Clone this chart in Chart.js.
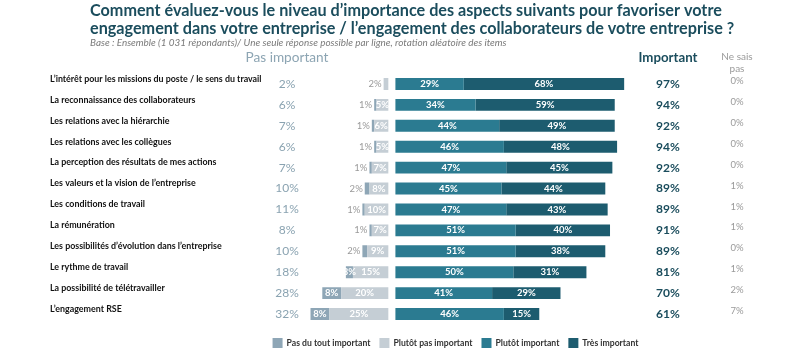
<!DOCTYPE html>
<html><head><meta charset="utf-8">
<script src="https://cdn.jsdelivr.net/npm/chart.js@4.4.1/dist/chart.umd.min.js"></script>
<style>html,body{margin:0;padding:0;background:#fff;overflow:hidden;}</style>
</head><body>
<canvas id="c" width="800" height="352"></canvas>
<script>
// ---------- DATA ----------
const titleLines = [
  "Comment évaluez-vous le niveau d’importance des aspects suivants pour favoriser votre",
  "engagement dans votre entreprise / l’engagement des collaborateurs de votre entreprise ?"
];
const subtitle = "Base : Ensemble (1 031 répondants)/ Une seule réponse possible par ligne, rotation aléatoire des items";
const categories = [
  "L’intérêt pour les missions du poste / le sens du travail",
  "La reconnaissance des collaborateurs",
  "Les relations avec la hiérarchie",
  "Les relations avec les collègues",
  "La perception des résultats de mes actions",
  "Les valeurs et la vision de l’entreprise",
  "Les conditions de travail",
  "La rémunération",
  "Les possibilités d’évolution dans l’entreprise",
  "Le rythme de travail",
  "La possibilité de télétravailler",
  "L’engagement RSE"
];
const seriesNames = ["Pas du tout important", "Plutôt pas important", "Plutôt important", "Très important"];
const pasDuTout   = [0, 1, 1, 1, 1, 2, 1, 1, 2, 3, 8, 8];
const plutotPas   = [2, 5, 6, 5, 7, 8, 10, 7, 9, 15, 20, 25];
const plutotImp   = [29, 34, 44, 46, 47, 45, 47, 51, 51, 50, 41, 46];
const tresImp     = [68, 59, 49, 48, 45, 44, 43, 40, 38, 31, 29, 15];
const pasImportant = [2, 6, 7, 6, 7, 10, 11, 8, 10, 18, 28, 32];
const important    = [97, 94, 92, 94, 92, 89, 89, 91, 89, 81, 70, 61];
const neSaisPas    = [0, 0, 0, 0, 0, 1, 1, 1, 0, 1, 2, 7];
const headers = { pas: "Pas important", imp: "Important", nsp: ["Ne sais", "pas"] };

// ---------- STYLE ----------
const C_PDT = "#8ea6b6", C_PP = "#c5ced5", C_PI = "#2b7b91", C_TI = "#1d5c6f";
const C_TITLE = "#1b4d5d";
const FAM = "Lato, 'Open Sans', sans-serif";
const GAP = 3; // visual gap (axis units) between the negative and positive stacks

function fitSize(text, weight, style, family, targetW) {
  const cv = document.createElement('canvas').getContext('2d');
  cv.font = `${style} ${weight} 20px ${family}`;
  return 20 * targetW / cv.measureText(text).width;
}
const catSize = fitSize(categories[0], 'bold', 'normal', FAM, 212);

const pctTxt = v => v + "%";

const overlay = {
  id: 'overlay',
  afterDatasetsDraw(chart) {
    const ctx = chart.ctx;
    ctx.save();
    const srcs = [plutotPas, pasDuTout, null, plutotImp, tresImp];
    srcs.forEach((src, di) => {
      if (!src) return;
      const meta = chart.getDatasetMeta(di);
      meta.data.forEach((el, i) => {
        const v = src[i];
        if (!v) return;
        const p = el.getProps(['x', 'base', 'y'], true);
        const left = Math.min(p.x, p.base), right = Math.max(p.x, p.base);
        ctx.textBaseline = 'middle';
        if (v >= 3) {
          ctx.fillStyle = '#ffffff';
          ctx.font = `bold 9.5px ${FAM}`;
          ctx.textAlign = 'center';
          ctx.fillText(pctTxt(v), (left + right) / 2, p.y);
        } else {
          ctx.fillStyle = '#9a9a9a';
          ctx.font = `normal 9.5px ${FAM}`;
          ctx.textAlign = 'right';
          ctx.fillText(pctTxt(v), left - 2, p.y);
        }
      });
    });
    ctx.restore();
  },
  afterDraw(chart) {
    const ctx = chart.ctx;
    const yS = chart.scales.y;
    ctx.save();
    ctx.textBaseline = 'middle';
    // title
    ctx.fillStyle = C_TITLE;
    ctx.textAlign = 'left';
    const tSize = fitSize(titleLines[0], 'bold', 'normal', FAM, 632);
    ctx.font = `bold ${tSize}px ${FAM}`;
    ctx.fillText(titleLines[0], 90, 11);
    ctx.fillText(titleLines[1], 90, 29);
    const sSize = fitSize(subtitle, 'normal', 'italic', FAM, 417);
    ctx.font = `italic ${sSize}px ${FAM}`;
    ctx.fillStyle = '#7a7a7a';
    ctx.fillText(subtitle, 90, 43);
    // column headers
    ctx.textAlign = 'center';
    ctx.fillStyle = '#8da5b3';
    ctx.font = `normal ${fitSize(headers.pas, 'normal', 'normal', FAM, 83)}px ${FAM}`;
    ctx.fillText(headers.pas, 287, 58);
    ctx.fillStyle = C_TITLE;
    ctx.font = `bold ${fitSize(headers.imp, 'bold', 'normal', FAM, 59)}px ${FAM}`;
    ctx.fillText(headers.imp, 668, 58);
    ctx.fillStyle = '#9a9a9a';
    ctx.font = `normal 10px ${FAM}`;
    ctx.fillText(headers.nsp[0], 737, 57);
    ctx.fillText(headers.nsp[1], 737, 69);
    // column values
    categories.forEach((c, i) => {
      const y = yS.getPixelForValue(i);
      ctx.fillStyle = '#8aa3b1';
      ctx.font = `normal 12px ${FAM}`;
      ctx.fillText(pctTxt(pasImportant[i]), 287, y);
      ctx.fillStyle = C_TITLE;
      ctx.font = `bold 12px ${FAM}`;
      ctx.fillText(pctTxt(important[i]), 668, y);
      ctx.fillStyle = '#9a9a9a';
      ctx.font = `normal 9.5px ${FAM}`;
      ctx.fillText(pctTxt(neSaisPas[i]), 737, y - 3);
    });
    // legend
    const legColors = [C_PDT, C_PP, C_PI, C_TI];
    const lSize = fitSize(seriesNames[0], 'bold', 'normal', FAM, 84);
    ctx.font = `bold ${lSize}px ${FAM}`;
    const box = 10, gapTxt = 4, spacing = 9;
    const widths = seriesNames.map(s => ctx.measureText(s).width);
    const total = widths.reduce((a, b) => a + b, 0) + seriesNames.length * (box + gapTxt) + spacing * (seriesNames.length - 1);
    let x = 455.5 - total / 2;
    const ly = 343;
    ctx.textAlign = 'left';
    seriesNames.forEach((s, k) => {
      ctx.fillStyle = legColors[k];
      ctx.fillRect(x, ly - box / 2, box, box);
      ctx.fillStyle = '#333333';
      ctx.fillText(s, x + box + gapTxt, ly);
      x += box + gapTxt + widths[k] + spacing;
    });
    ctx.restore();
  }
};

new Chart(document.getElementById('c'), {
  type: 'bar',
  data: {
    labels: categories,
    datasets: [
      { label: seriesNames[1], data: plutotPas.map(v => -v), backgroundColor: C_PP },
      { label: seriesNames[0], data: pasDuTout.map(v => -v), backgroundColor: C_PDT },
      { label: 'gap', data: categories.map(() => GAP), backgroundColor: 'rgba(0,0,0,0)' },
      { label: seriesNames[2], data: plutotImp, backgroundColor: C_PI },
      { label: seriesNames[3], data: tresImp, backgroundColor: C_TI }
    ]
  },
  options: {
    indexAxis: 'y',
    responsive: false,
    animation: false,
    layout: { padding: { left: 50, right: 40, top: 73.5, bottom: 27.5 } },
    datasets: { bar: { barPercentage: 0.57, categoryPercentage: 1, stack: 's' } },
    plugins: { legend: { display: false }, tooltip: { enabled: false } },
    scales: {
      x: { stacked: true, min: -40, max: 157.6, display: false },
      y: {
        stacked: true,
        grid: { display: false },
        border: { display: false },
        ticks: { crossAlign: 'far', labelOffset: -5, color: '#111111', font: { family: FAM, weight: 'bold', size: catSize } },
        afterFit(s) { s.width = 244; }
      }
    }
  },
  plugins: [overlay]
});
</script>
</body></html>
